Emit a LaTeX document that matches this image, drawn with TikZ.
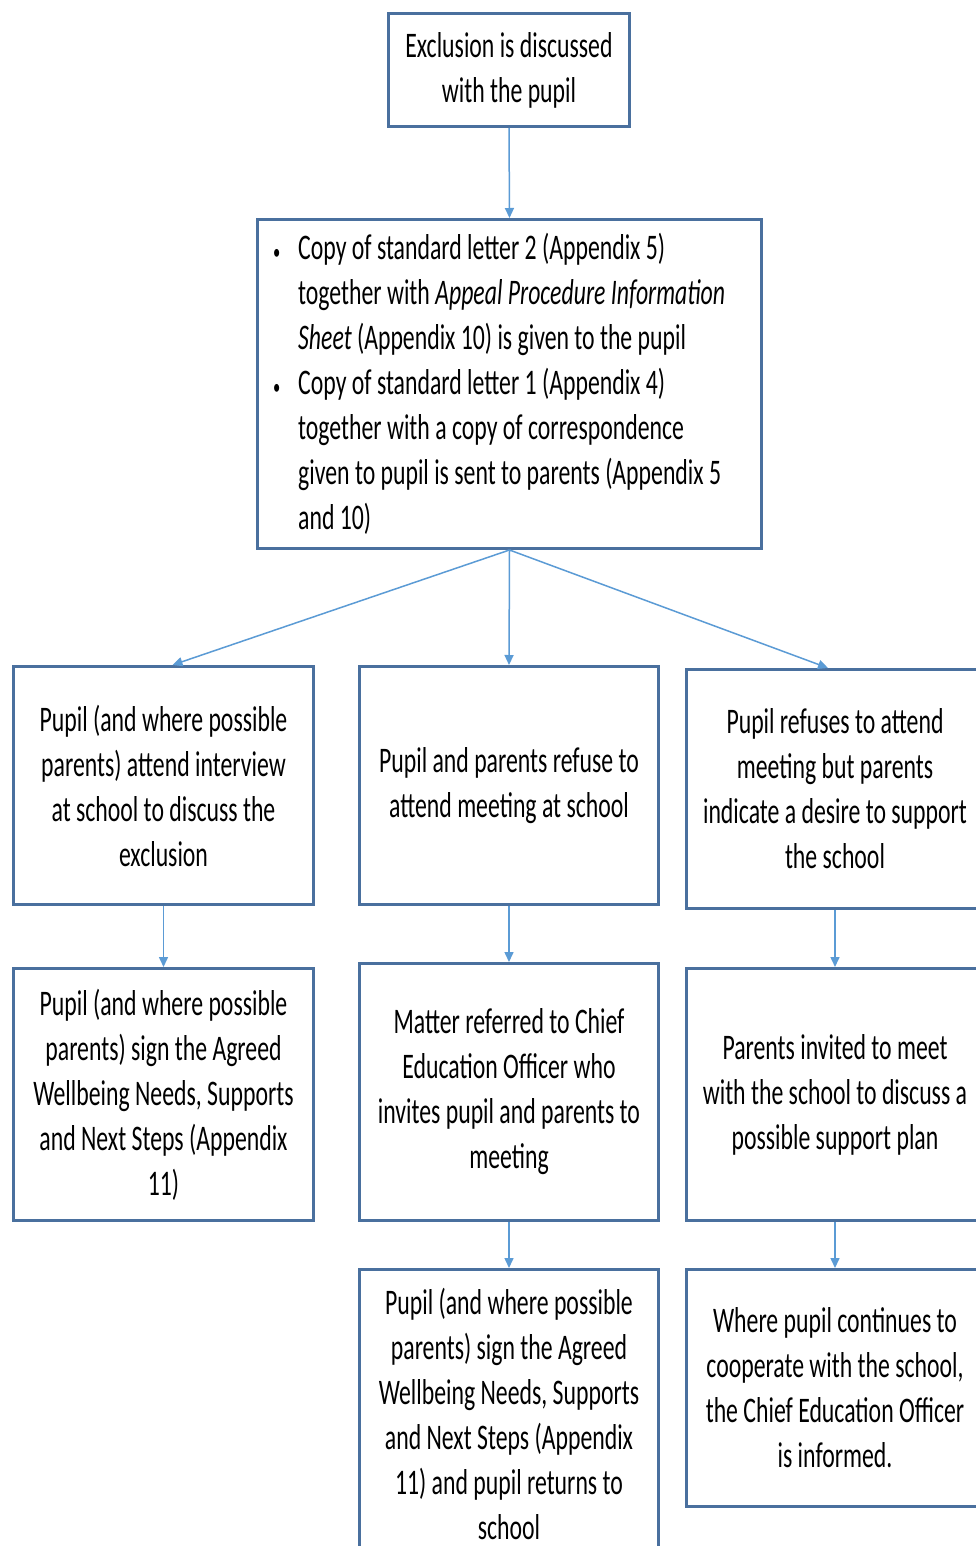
\documentclass[tikz,border=0pt]{standalone}
\usepackage{fontspec}
\setmainfont{Carlito}[FakeStretch=0.66]
\usetikzlibrary{arrows.meta}
\definecolor{boxblue}{RGB}{74,112,158}
\definecolor{arrowblue}{RGB}{91,155,213}
\newcommand{\bul}{\fontsize{22}{22}\selectfont\textbullet}
\begin{document}
\begin{tikzpicture}[x=1pt,y=-1pt,
  box/.style={draw=boxblue,line width=3pt,fill=white,inner sep=0pt,align=center,
    font=\fontsize{36}{45}\selectfont},
  txt/.style={inner sep=0pt,align=left,font=\fontsize{36}{45}\selectfont},
  arr/.style={draw=arrowblue,line width=1.5pt,-{Triangle[length=10pt,width=9pt]}}]
\clip (0,0) rectangle (976,1546);
\fill[white] (0,0) rectangle (976,1546);
\node[box,minimum width=241pt,minimum height=113pt] (b1) at (509,70)
  {Exclusion is discussed\\with the pupil};
\node[box,minimum width=504pt,minimum height=329pt] (b2) at (509.5,384) {};
\node[txt,anchor=west] (t2) at ([xshift=17pt,yshift=-1pt]b2.west)
  {\begin{tabular}{@{}p{25pt}@{}l@{}}
   \bul & Copy of standard letter 2 (Appendix 5)\\
   & together with \textit{Appeal Procedure Information}\\
   & \textit{Sheet} (Appendix 10) is given to the pupil\\
   \bul & Copy of standard letter 1 (Appendix 4)\\
   & together with a copy of correspondence\\
   & given to pupil is sent to parents (Appendix 5\\
   & and 10)
   \end{tabular}};
\node[box,minimum width=300pt,minimum height=238pt] (l1) at (163.5,785.5)
  {Pupil (and where possible\\parents) attend interview\\at school to discuss the\\exclusion};
\node[box,minimum width=299pt,minimum height=238pt] (m1) at (509,785.5)
  {Pupil and parents refuse to\\attend meeting at school};
\node[box,minimum width=297pt,minimum height=239pt] (r1) at (835,789)
  {Pupil refuses to attend\\meeting but parents\\indicate a desire to support\\the school};
\node[box,minimum width=300pt,minimum height=252pt] (l2) at (163.5,1094.5)
  {Pupil (and where possible\\parents) sign the Agreed\\Wellbeing Needs, Supports\\and Next Steps (Appendix\\11)};
\node[box,minimum width=299pt,minimum height=257pt] (m2) at (509,1092)
  {Matter referred to Chief\\Education Officer who\\invites pupil and parents to\\meeting};
\node[box,minimum width=297pt,minimum height=252pt] (r2) at (835,1094.5)
  {Parents invited to meet\\with the school to discuss a\\possible support plan};
\node[box,minimum width=299pt,minimum height=289pt] (m3) at (509,1414)
  {Pupil (and where possible\\parents) sign the Agreed\\Wellbeing Needs, Supports\\and Next Steps (Appendix\\11) and pupil returns to\\school};
\node[box,minimum width=297pt,minimum height=237pt] (r3) at (835,1388)
  {Where pupil continues to\\cooperate with the school,\\the Chief Education Officer\\is informed.};
\draw[arr] (b1.south) -- (b2.north);
\draw[arr] (b2.south) -- ([xshift=9pt]l1.north);
\draw[arr] (b2.south) -- (m1.north);
\draw[arr] (b2.south) -- ([xshift=-7pt]r1.north);
\draw[arr] (l1.south) -- (l2.north);
\draw[arr] (m1.south) -- (m2.north);
\draw[arr] (r1.south) -- (r2.north);
\draw[arr] (m2.south) -- (m3.north);
\draw[arr] (r2.south) -- (r3.north);
\end{tikzpicture}
\end{document}
